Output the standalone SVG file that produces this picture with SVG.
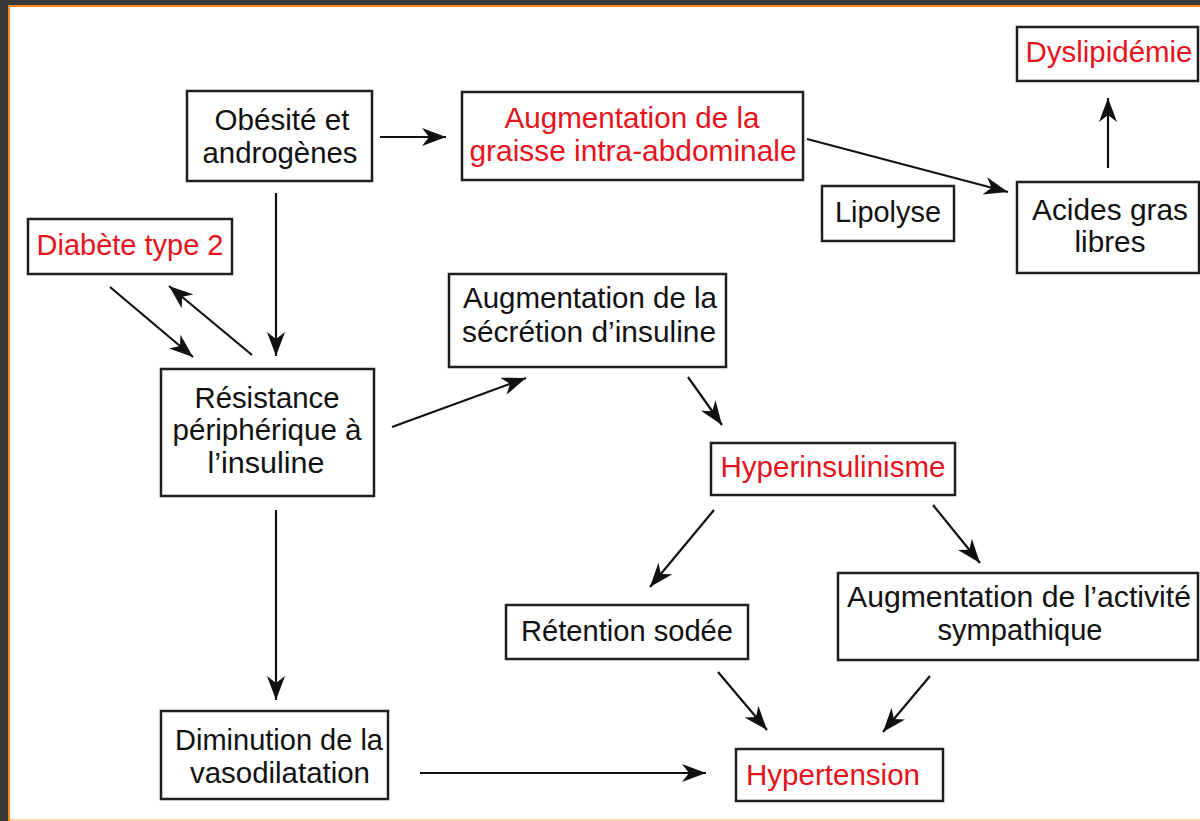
<svg xmlns="http://www.w3.org/2000/svg" width="1200" height="821" viewBox="0 0 1200 821">
<defs>
<style>
.box{fill:#fff;stroke:#1e1e1e;stroke-width:2.5}
.t{font-family:"Liberation Sans Narrow","Liberation Sans",Arial,sans-serif;font-size:29.5px;fill:#111}
.r{fill:#e8121c}
.c{stroke:#111;stroke-width:2.2;fill:none;marker-end:url(#ah)}
</style>
<marker id="ah" markerUnits="userSpaceOnUse" markerWidth="26" markerHeight="18" refX="24" refY="9" orient="auto">
<path d="M0,0 L24,9 L0,18 L7,9 z" fill="#111"/>
</marker>
</defs>
<rect x="0" y="0" width="1200" height="821" fill="#3a3a3a"/>
<rect x="8" y="5" width="1192" height="816" fill="#ff8a1c"/>
<rect x="10" y="7" width="1190" height="812" fill="#ffffff"/>
<rect x="10" y="819" width="1190" height="2" fill="#ffd2a8"/>

<g id="connectors">
<line class="c" x1="380" y1="137" x2="446" y2="137"/>
<line class="c" x1="807" y1="139" x2="1008" y2="192"/>
<line class="c" x1="1108" y1="168" x2="1108" y2="98"/>
<line class="c" x1="276" y1="193" x2="276" y2="356"/>
<line class="c" x1="110" y1="287" x2="193" y2="357"/>
<line class="c" x1="252" y1="355" x2="169" y2="286"/>
<line class="c" x1="392" y1="427" x2="526" y2="378"/>
<line class="c" x1="688" y1="377" x2="722" y2="425"/>
<line class="c" x1="714" y1="510" x2="650" y2="587"/>
<line class="c" x1="933" y1="505" x2="980" y2="563"/>
<line class="c" x1="718" y1="672" x2="767" y2="730"/>
<line class="c" x1="930" y1="676" x2="883" y2="732"/>
<line class="c" x1="276" y1="510" x2="276" y2="700"/>
<line class="c" x1="420" y1="773" x2="706" y2="773"/>
</g>

<g id="obesite">
<rect class="box" x="187" y="91" width="185" height="90"/>
<text class="t" x="282" y="130" text-anchor="middle" textLength="135" lengthAdjust="spacingAndGlyphs">Obésité et</text>
<text class="t" x="280" y="163" text-anchor="middle" textLength="155" lengthAdjust="spacingAndGlyphs">androgènes</text>
</g>

<g id="graisse">
<rect class="box" x="462" y="92" width="341" height="88"/>
<text class="t r" x="632" y="128" text-anchor="middle" textLength="255" lengthAdjust="spacingAndGlyphs">Augmentation de la</text>
<text class="t r" x="633" y="161" text-anchor="middle" textLength="327" lengthAdjust="spacingAndGlyphs">graisse intra-abdominale</text>
</g>

<g id="dyslipidemie">
<rect class="box" x="1017" y="27" width="181" height="54"/>
<text class="t r" x="1109" y="62" text-anchor="middle" textLength="167" lengthAdjust="spacingAndGlyphs">Dyslipidémie</text>
</g>

<g id="lipolyse">
<rect class="box" x="822" y="186" width="132" height="55"/>
<text class="t" x="888" y="222" text-anchor="middle" textLength="106" lengthAdjust="spacingAndGlyphs">Lipolyse</text>
</g>

<g id="acides">
<rect class="box" x="1017" y="182" width="182" height="91"/>
<text class="t" x="1110" y="220" text-anchor="middle" textLength="156" lengthAdjust="spacingAndGlyphs">Acides gras</text>
<text class="t" x="1110" y="252" text-anchor="middle" textLength="71" lengthAdjust="spacingAndGlyphs">libres</text>
</g>

<g id="diabete">
<rect class="box" x="28" y="219" width="204" height="55"/>
<text class="t r" x="130" y="255" text-anchor="middle" textLength="187" lengthAdjust="spacingAndGlyphs">Diabète type 2</text>
</g>

<g id="resistance">
<rect class="box" x="161" y="369" width="213" height="127"/>
<text class="t" x="267" y="408" text-anchor="middle" textLength="145" lengthAdjust="spacingAndGlyphs">Résistance</text>
<text class="t" x="267" y="440" text-anchor="middle" textLength="189" lengthAdjust="spacingAndGlyphs">périphérique à</text>
<text class="t" x="266" y="473" text-anchor="middle" textLength="117" lengthAdjust="spacingAndGlyphs">l’insuline</text>
</g>

<g id="secretion">
<rect class="box" x="449" y="274" width="277" height="93"/>
<text class="t" x="590" y="308" text-anchor="middle" textLength="254" lengthAdjust="spacingAndGlyphs">Augmentation de la</text>
<text class="t" x="589" y="342" text-anchor="middle" textLength="254" lengthAdjust="spacingAndGlyphs">sécrétion d’insuline</text>
</g>

<g id="hyperinsulinisme">
<rect class="box" x="711" y="443" width="244" height="52"/>
<text class="t r" x="833" y="477" text-anchor="middle" textLength="225" lengthAdjust="spacingAndGlyphs">Hyperinsulinisme</text>
</g>

<g id="retention">
<rect class="box" x="506" y="605" width="242" height="54"/>
<text class="t" x="627" y="641" text-anchor="middle" textLength="212" lengthAdjust="spacingAndGlyphs">Rétention sodée</text>
</g>

<g id="sympathique">
<rect class="box" x="838" y="573" width="360" height="87"/>
<text class="t" x="1019" y="607" text-anchor="middle" textLength="344" lengthAdjust="spacingAndGlyphs">Augmentation de l’activité</text>
<text class="t" x="1020" y="640" text-anchor="middle" textLength="165" lengthAdjust="spacingAndGlyphs">sympathique</text>
</g>

<g id="diminution">
<rect class="box" x="161" y="711" width="227" height="88"/>
<text class="t" x="279" y="750" text-anchor="middle" textLength="208" lengthAdjust="spacingAndGlyphs">Diminution de la</text>
<text class="t" x="280" y="783" text-anchor="middle" textLength="180" lengthAdjust="spacingAndGlyphs">vasodilatation</text>
</g>

<g id="hypertension">
<rect class="box" x="736" y="749" width="207" height="52"/>
<text class="t r" x="833" y="785" text-anchor="middle" textLength="174" lengthAdjust="spacingAndGlyphs">Hypertension</text>
</g>
</svg>
